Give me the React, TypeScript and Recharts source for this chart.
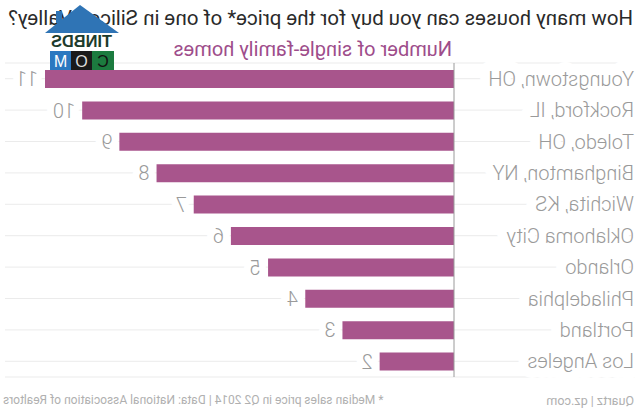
import React from 'react';
import { BarChart, Bar, XAxis, YAxis, CartesianGrid, LabelList } from 'recharts';

const cities = [
  'Youngstown, OH',
  'Rockford, IL',
  'Toledo, OH',
  'Binghamton, NY',
  'Wichita, KS',
  'Oklahoma City',
  'Orlando',
  'Philadelphia',
  'Portland',
  'Los Angeles',
];
const homes = [11, 10, 9, 8, 7, 6, 5, 4, 3, 2];

const data = cities.map((city, i) => ({ city, homes: homes[i] }));

const FONT = 'Roboto, "Noto Sans", sans-serif';
const BAR = '#a8558c';

// city names sit at the left edge, white halo cuts the grid line
const CityTick = (props: any) => {
  const { y, payload } = props;
  return (
    <text
      x={6}
      y={y}
      dy="0.35em"
      textAnchor="start"
      fontFamily={FONT}
      fontSize={20}
      fontWeight={300}
      fill="#9a9a9a"
      stroke="#fff"
      strokeWidth={20}
      strokeLinejoin="round"
      paintOrder="stroke"
    >
      {payload.value}
    </text>
  );
};

const ValueLabel = (props: any) => {
  const { x, y, width, height, value } = props;
  return (
    <text
      x={x + width + 7}
      y={y + height / 2}
      dy="0.36em"
      textAnchor="start"
      fontFamily={FONT}
      fontSize={20}
      fontWeight={300}
      fill="#9a9a9a"
      stroke="#fff"
      strokeWidth={14}
      strokeLinejoin="round"
      paintOrder="stroke"
    >
      {value}
    </text>
  );
};

const Watermark = () => (
  <svg width={76} height={68} style={{ position: 'absolute', left: 520, top: 3 }}>
    <polygon points="1,30 40,2 75,30" fill="#2f74b5" />
    <rect x={58} y={8} width={6} height={12} fill="#2f74b5" />
    <text
      x={8}
      y={44}
      textLength={61}
      lengthAdjust="spacingAndGlyphs"
      fontFamily="Arial, sans-serif"
      fontWeight={700}
      fontSize={16}
      fill="#1d3b2c"
    >
      TINBDS
    </text>
    <rect x={6} y={48} width={22} height={19} fill="#1c7b3f" />
    <rect x={28} y={48} width={21} height={19} fill="#1a1a1a" />
    <rect x={49} y={48} width={21} height={19} fill="#2a78c0" />
    <text x={17} y={64} textAnchor="middle" fontFamily="Arial, sans-serif" fontSize={16} fill="#111">C</text>
    <text x={38.5} y={64} textAnchor="middle" fontFamily="Arial, sans-serif" fontSize={16} fill="#ddd">O</text>
    <text x={59.5} y={64} textAnchor="middle" fontFamily="Arial, sans-serif" fontSize={16} fill="#fff">M</text>
  </svg>
);

export default function App() {
  return (
    <div
      style={{
        position: 'absolute',
        left: 0,
        top: 0,
        width: 640,
        height: 409,
        background: '#fff',
        overflow: 'hidden',
        transform: 'scaleX(-1)',
        fontFamily: FONT,
      }}
    >
      <div style={{ position: 'absolute', left: 7, top: 6, fontSize: 20.5, color: '#2a2a2a', whiteSpace: 'nowrap' }}>
        How many houses can you buy for the price* of one in Silicon Valley?
      </div>
      <div style={{ position: 'absolute', left: 188, top: 37, fontSize: 20, color: '#9e4d8b', whiteSpace: 'nowrap' }}>
        Number of single-family homes
      </div>

      <BarChart
        width={640}
        height={409}
        data={data}
        layout="vertical"
        margin={{ top: 63, right: 45, bottom: 32, left: 0 }}
      >
        <CartesianGrid vertical={false} x={5} width={630} stroke="#ebebeb" />
        <XAxis type="number" domain={[0, 11]} hide />
        <YAxis
          type="category"
          dataKey="city"
          width={186}
          axisLine={{ stroke: '#9a9a9a' }}
          tickLine={false}
          tick={<CityTick />}
          interval={0}
        />
        <Bar dataKey="homes" fill={BAR} barSize={18} isAnimationActive={false}>
          <LabelList dataKey="homes" content={<ValueLabel />} />
        </Bar>
      </BarChart>

      <div style={{ position: 'absolute', left: 6, top: 393, fontSize: 12.5, color: '#b0b0b0', whiteSpace: 'nowrap' }}>
        Quartz | qz.com
      </div>
      <div style={{ position: 'absolute', right: 3, top: 393, fontSize: 12, color: '#b0b0b0', whiteSpace: 'nowrap' }}>
        * Median sales price in Q2 2014 | Data: National Association of Realtors
      </div>

      <Watermark />
    </div>
  );
}
